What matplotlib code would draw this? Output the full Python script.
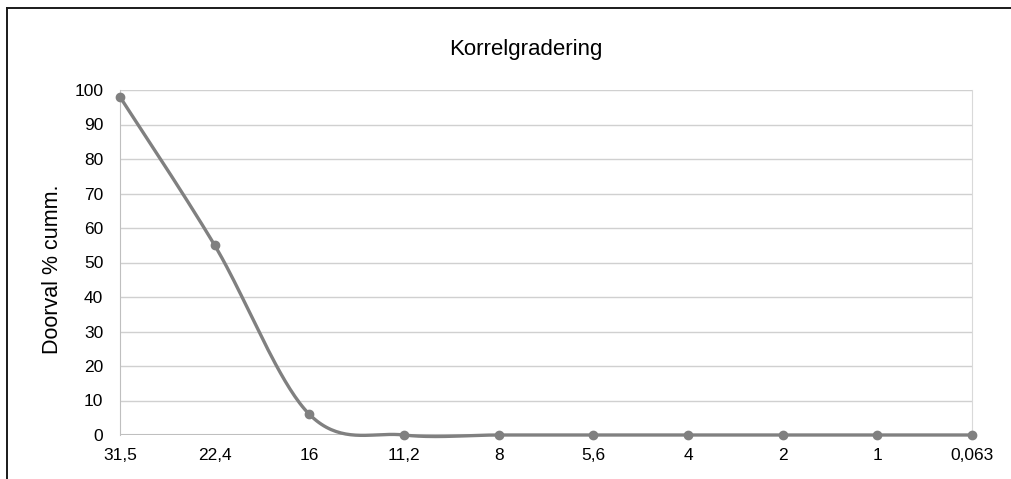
import numpy as np
import matplotlib.pyplot as plt
from matplotlib.lines import Line2D

plt.rcParams['font.family'] = ['Liberation Sans', 'DejaVu Sans']

# Data
sieve_labels = ["31,5", "22,4", "16", "11,2", "8", "5,6", "4", "2", "1", "0,063"]
passing = [98, 55, 6, 0, 0, 0, 0, 0, 0, 0]


def smooth_curve(xs, ys, n=40):
    """Excel-like smoothing: Catmull-Rom as cubic Bezier segments."""
    pts = np.column_stack([xs, ys]).astype(float)
    out = []
    for i in range(len(pts) - 1):
        p0 = pts[i - 1] if i > 0 else pts[i]
        p1, p2 = pts[i], pts[i + 1]
        p3 = pts[i + 2] if i + 2 < len(pts) else pts[i + 1]
        c1 = p1 + (p2 - p0) / 6
        c2 = p2 - (p3 - p1) / 6
        t = np.linspace(0, 1, n)[:, None]
        seg = ((1 - t) ** 3) * p1 + 3 * ((1 - t) ** 2) * t * c1 + 3 * (1 - t) * t ** 2 * c2 + t ** 3 * p2
        out.append(seg if i == 0 else seg[1:])
    seg = np.vstack(out)
    return seg[:, 0], seg[:, 1]


W, H = 1011, 479
fig = plt.figure(figsize=(W / 100, H / 100), dpi=100)
# outer chart frame (only left and top edges are inside the picture)
fig.lines.append(Line2D([7 / W, 7 / W], [0, 1 - 8 / H], transform=fig.transFigure, color="#1a1a1a", linewidth=1.4))
fig.lines.append(Line2D([7 / W, 1], [1 - 8 / H, 1 - 8 / H], transform=fig.transFigure, color="#1a1a1a", linewidth=1.4))

ax = fig.add_axes([120 / W, 44 / H, 852 / W, 345 / H])
x = np.arange(len(sieve_labels))
sx, sy = smooth_curve(x, passing)
ax.plot(sx, sy, color="#808080", linewidth=2.4, solid_capstyle="round", clip_on=False, zorder=3)
ax.plot(x, passing, "o", color="#808080", markersize=6, clip_on=False, zorder=4)

ax.set_xlim(0, len(sieve_labels) - 1)
ax.set_ylim(0, 100)
ax.set_xticks(x)
ax.set_xticklabels(sieve_labels)
ax.set_yticks(range(0, 101, 10))
ax.tick_params(length=0, labelsize=12.5)
ax.tick_params(axis="y", pad=12)
ax.tick_params(axis="x", pad=9)
ax.grid(axis="y", color="#d0d0d0", linewidth=1)
ax.set_axisbelow(True)
for side in ["top", "bottom"]:
    ax.spines[side].set_visible(False)
ax.spines["left"].set_color("#bfbfbf")
ax.spines["right"].set_color("#d9d9d9")
ax.axhline(0, color="#bfbfbf", linewidth=1.5, zorder=2)

fig.text(53 / W, 1 - 269 / H, "Doorval % cumm.", rotation=90, ha="center", va="center", fontsize=15.5)
fig.text(526 / W, 1 - 50 / H, "Korrelgradering", ha="center", va="center", fontsize=16)

fig.savefig("out.png", dpi=100)
